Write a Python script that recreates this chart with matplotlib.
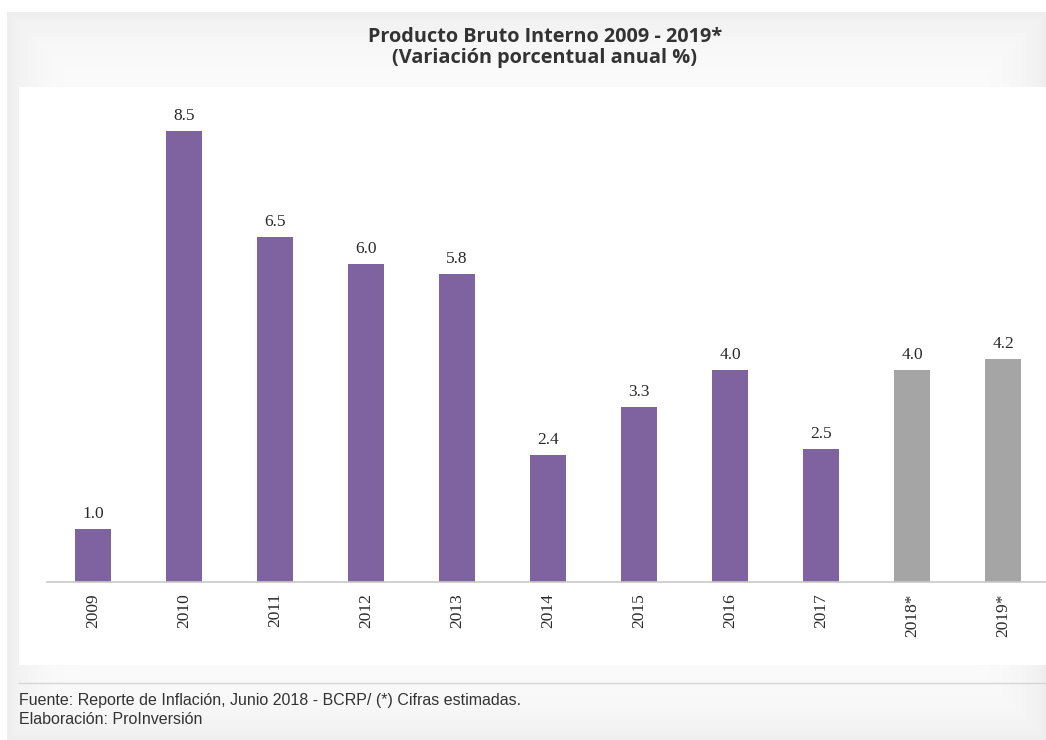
import numpy as np
import matplotlib.pyplot as plt
from matplotlib.patches import Rectangle

years = ["2009", "2010", "2011", "2012", "2013", "2014", "2015", "2016", "2017", "2018*", "2019*"]
growth = [1.0, 8.5, 6.5, 6.0, 5.8, 2.4, 3.3, 4.0, 2.5, 4.0, 4.2]
estimated = [False] * 9 + [True, True]

purple = "#7e63a0"
grey = "#a5a5a5"

W, H = 1046, 740
fig = plt.figure(figsize=(W / 100, H / 100), dpi=100, facecolor="white")

# card with a soft shading towards its edges
bg = fig.add_axes([0, 0, 1, 1], zorder=0)
bg.set_axis_off()
yy, xx = np.mgrid[0:H, 0:W]
d = np.minimum.reduce([xx - 7, yy - 12, W - xx, H - yy]).astype(float)
shade = 0.985 - 0.055 * np.exp(-np.clip(d, 0, None) / 30.0)
shade[(xx < 7) | (yy < 12)] = 1.0
bg.imshow(shade, cmap="gray", vmin=0, vmax=1, extent=[0, W, H, 0], aspect="auto",
          interpolation="bilinear")
bg.add_patch(Rectangle((19, 87), W - 19, 665 - 87, facecolor="white", edgecolor="none"))
bg.plot([19, W], [683, 683], color="#d5d5d5", lw=1)
bg.set_xlim(0, W)
bg.set_ylim(H, 0)

ax = fig.add_axes([47 / W, 1 - 582 / H, 1 - 47 / W, (582 - 87) / H])
ax.set_facecolor("none")
ax.set_zorder(3)

colors = [grey if e else purple for e in estimated]
x = range(len(years))
bars = ax.bar(x, growth, width=0.4, color=colors)
for xi, v in zip(x, growth):
    ax.annotate(f"{v:.1f}", (xi, v), xytext=(0, 5), textcoords="offset points",
                ha="center", va="bottom", fontsize=12.5, family="Liberation Serif",
                color="#2a2a2a")

ax.set_xlim(-0.505, 10.47)
ax.set_ylim(0, 9.33)
ax.set_xticks(list(x))
ax.set_xticklabels(years, rotation=90, fontsize=12.5, family="Liberation Serif", color="#2a2a2a")
ax.tick_params(axis="x", length=0, pad=8)
ax.set_yticks([])
for s in ["top", "right", "left"]:
    ax.spines[s].set_visible(False)
ax.spines["bottom"].set_color("#c8c8c8")
ax.spines["bottom"].set_linewidth(1.2)

fig.text(545 / W, 1 - 37 / H, "Producto Bruto Interno 2009 - 2019*", ha="center", va="center",
         fontsize=14.3, fontweight="bold", family="Open Sans", color="#333333", zorder=4)
fig.text(545 / W, 1 - 58 / H, "(Variación porcentual anual %)", ha="center", va="center",
         fontsize=14.3, fontweight="bold", family="Open Sans", color="#333333", zorder=4)

fig.text(19 / W, 1 - 700 / H, "Fuente: Reporte de Inflación, Junio 2018 - BCRP/ (*) Cifras estimadas.",
         ha="left", va="center", fontsize=11.5, family="Liberation Sans", color="#333333", zorder=4)
fig.text(19 / W, 1 - 720 / H, "Elaboración: ProInversión",
         ha="left", va="center", fontsize=11.5, family="Liberation Sans", color="#333333", zorder=4)

fig.savefig("out.png", dpi=100, facecolor=fig.get_facecolor())
